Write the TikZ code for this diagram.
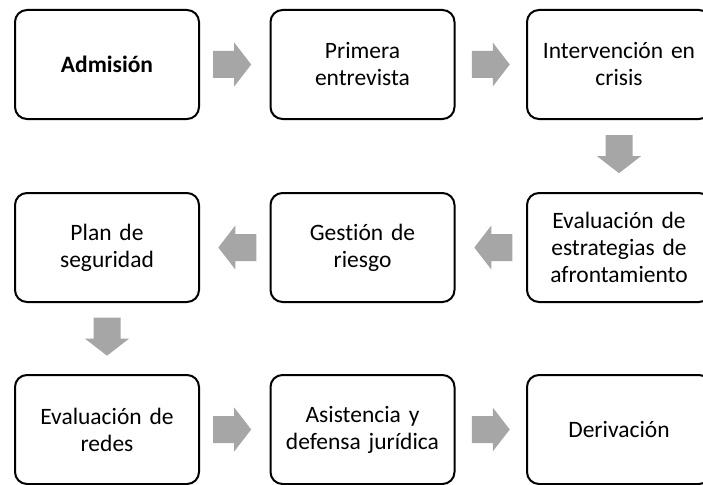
\documentclass[tikz,border=0pt]{standalone}
\usepackage{fontspec}
\setmainfont[Ligatures=NoCommon]{Carlito}
\usetikzlibrary{calc}
\definecolor{arrowgray}{HTML}{A6A6A6}
\tikzset{
  stepbox/.style={draw=black, line width=2pt, rounded corners=12pt, fill=white,
    minimum width=184pt, minimum height=109pt, align=center, text width=180pt,
    inner sep=0pt, font=\fontsize{23.5pt}{27pt}\selectfont},
  blockarrow/.style={fill=arrowgray, draw=none},
}
\newcommand\blockarr[2]{\fill[blockarrow, shift={(#1)}, rotate=#2]
  (-19,-13.5) -- (2,-13.5) -- (2,-22) -- (19,0) -- (2,22) -- (2,13.5) -- (-19,13.5) -- cycle;}
\begin{document}
\begin{tikzpicture}[x=1pt,y=-1pt]
\useasboundingbox (0,0) rectangle (703,484);
\node[stepbox] (b1) at (107,64.5) {\textbf{Admisión}};
\node[stepbox] (b2) at (362.5,64.5) {Primera\\entrevista};
\node[stepbox] (b3) at (619,64.5) {Intervención en\\crisis};
\node[stepbox] (b4) at (619,247.5) {Evaluación de\\estrategias de\\afrontamiento};
\node[stepbox] (b5) at (362.5,247.5) {Gestión de\\riesgo};
\node[stepbox] (b6) at (107,247.5) {Plan de\\seguridad};
\node[stepbox] (b7) at (107,429.5) {Evaluación de\\redes};
\node[stepbox] (b8) at (362.5,429.5) {Asistencia y\\defensa jurídica};
\node[stepbox] (b9) at (619,429.5) {Derivación};
\coordinate (a12) at ($(b1)!0.49!(b2)$);
\coordinate (a23) at ($(b2)!0.5!(b3)$);
\coordinate (a34) at ($(b3)!0.49!(b4)$);
\coordinate (a45) at ($(b4)!0.49!(b5)$);
\coordinate (a56) at ($(b5)!0.49!(b6)$);
\coordinate (a67) at ($(b6)!0.49!(b7)$);
\coordinate (a78) at ($(b7)!0.49!(b8)$);
\coordinate (a89) at ($(b8)!0.5!(b9)$);
\blockarr{a12}{0}
\blockarr{a23}{0}
\blockarr{a34}{-90}
\blockarr{a45}{180}
\blockarr{a56}{180}
\blockarr{a67}{-90}
\blockarr{a78}{0}
\blockarr{a89}{0}
\end{tikzpicture}
\end{document}
